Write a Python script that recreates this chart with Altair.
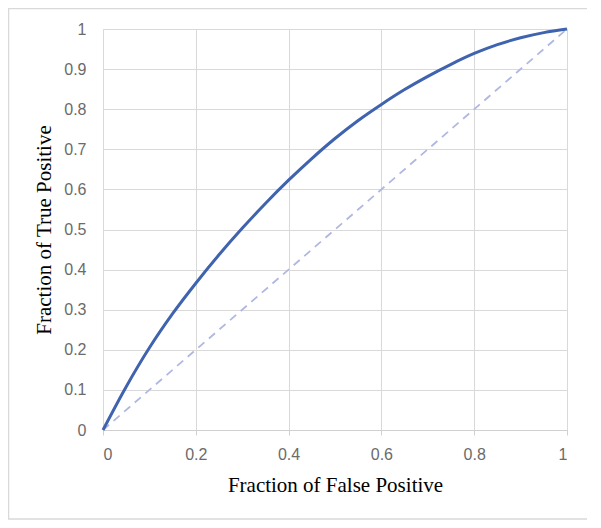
import altair as alt
import pandas as pd

fpr = [0.0, 0.05, 0.1, 0.15, 0.2, 0.25, 0.3, 0.35, 0.4, 0.45, 0.5, 0.55, 0.6, 0.65, 0.7, 0.75, 0.8, 0.85, 0.9, 0.95, 1.0]
tpr = [0.0, 0.108, 0.205, 0.29, 0.366, 0.437, 0.503, 0.565, 0.623, 0.677, 0.727, 0.772, 0.812, 0.849, 0.882, 0.912, 0.939, 0.961, 0.978, 0.991, 1.0]
diag_x = [0.0, 1.0]
diag_y = [0.0, 1.0]
x_ticks = [0, 0.2, 0.4, 0.6, 0.8, 1]
y_ticks = [0, 0.1, 0.2, 0.3, 0.4, 0.5, 0.6, 0.7, 0.8, 0.9, 1]

roc = pd.DataFrame({"x": fpr, "y": tpr})
diag = pd.DataFrame({"x": diag_x, "y": diag_y})

xs = alt.Scale(domain=[0, 1], nice=False)
ys = alt.Scale(domain=[0, 1], nice=False)

xaxis = alt.Axis(title="Fraction of False Positive", values=x_ticks, format="~g",
                 grid=True, domain=True, ticks=True, tickSize=5, labelPadding=11, titlePadding=12)
yaxis = alt.Axis(title="Fraction of True Positive", values=y_ticks, format="~g",
                 grid=True, domain=False, ticks=False, labelPadding=17, titlePadding=9)

border = alt.Chart(pd.DataFrame({"a": [0]})).mark_rect(
    fill=None, stroke="#d9d9d9", strokeWidth=1.5
).encode(x=alt.value(-94.5), x2=alt.value(490.5), y=alt.value(-20.5), y2=alt.value(490))

d = alt.Chart(diag).mark_line(color="#b0b8e2", strokeDash=[8, 6], strokeWidth=1.8).encode(
    x=alt.X("x:Q", scale=xs, axis=xaxis), y=alt.Y("y:Q", scale=ys, axis=yaxis))
r = alt.Chart(roc).mark_line(color="#3f63ae", strokeWidth=3, interpolate="monotone").encode(
    x=alt.X("x:Q", scale=xs, axis=xaxis), y=alt.Y("y:Q", scale=ys, axis=yaxis))

chart = alt.layer(border, d, r).properties(
    width=464, height=401,
    autosize=alt.AutoSizeParams(type="none"),
    padding={"left": 95, "top": 21, "right": 20, "bottom": 90},
).configure_view(stroke=None).configure(background="white").configure_axis(
    gridColor="#d9d9d9", domainColor="#d0d0d0", tickColor="#d0d0d0",
    labelFont="Liberation Sans", labelFontSize=16, labelColor="#6b6b6b",
    titleFont="Liberation Serif", titleFontSize=21, titleFontWeight="normal",
    titleColor="#000000",
)

chart.save("out.html", embed_options={"renderer": "svg", "actions": False})
